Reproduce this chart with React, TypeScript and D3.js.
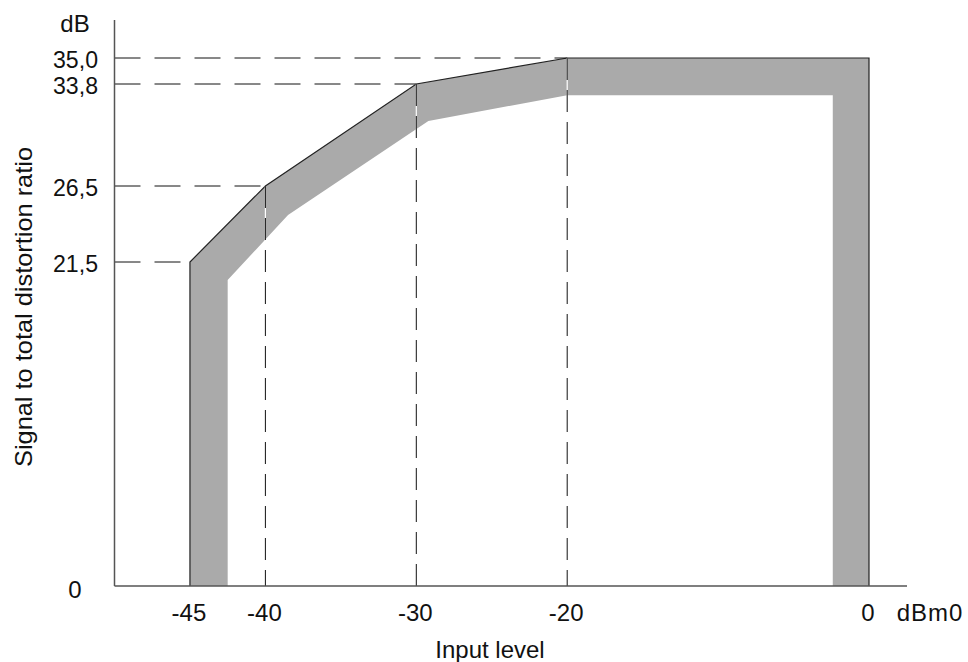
import React from "react";
import * as d3 from "d3";

// Breakpoints of the limit mask (upper edge)
const upperX = [-45, -45, -40, -30, -20, 0, 0];
const upperY = [0, 21.5, 26.5, 33.8, 35.0, 35.0, 0];
// Inner (lower) edge of the grey band
const innerX = [-42.5, -42.5, -38.5, -29.2, -20, -2.4, -2.4];
const innerY = [0, 20.3, 24.6, 31.15, 33.0, 33.0, 0];

// Annotated points (dashed reference lines)
const refX = [-45, -40, -30, -20];
const refY = [21.5, 26.5, 33.8, 35.0];
const yTickLabels = ["21,5", "26,5", "33,8", "35,0"];
const xTickValues = [-45, -40, -30, -20, 0];

const W = 968;
const H = 662;

export default function App() {
  const x = d3.scaleLinear().domain([-50, 0]).range([114.5, 869]);
  // drawing is not to scale: piecewise linear scale through the labelled values
  const y = d3.scaleLinear().domain([0, 21.5, 26.5, 33.8, 35]).range([586, 262, 186, 84, 58]);

  const outerPts: [number, number][] = upperX.map((v, i) => [x(v), y(upperY[i])]);
  const innerPts: [number, number][] = innerX.map((v, i) => [x(v), y(innerY[i])]);
  const band = [...outerPts, ...innerPts.slice().reverse()];
  const line = d3.line();
  const bandPath = line(band) + "Z";
  const outerEdge = line(outerPts) as string;

  const font = "'Liberation Sans', Arial, sans-serif";
  const fs = 24;

  return (
    <svg width={W} height={H} style={{ position: "absolute", left: 0, top: 0, background: "#fff" }}>
      <path d={bandPath} fill="#aaaaaa" stroke="none" />
      <path d={outerEdge} fill="none" stroke="#222" strokeWidth={1.2} />

      {/* horizontal dashed reference lines */}
      {refY.map((v, i) => (
        <line key={"h" + i} x1={x(-50)} x2={x(refX[i])} y1={y(v)} y2={y(v)} stroke="#111" strokeWidth={1} strokeDasharray="26,14" />
      ))}
      {/* vertical dashed reference lines (white gaps over the band) */}
      {refX.slice(1).map((v, i) => (
        <g key={"v" + i}>
          <line x1={x(v)} x2={x(v)} y1={y(refY[i + 1])} y2={y(0)} stroke="#fff" strokeWidth={1.2} />
          <line x1={x(v)} x2={x(v)} y1={y(refY[i + 1])} y2={y(0)} stroke="#111" strokeWidth={1} strokeDasharray="22,10" />
        </g>
      ))}

      {/* axes */}
      <line x1={x(-50)} x2={x(-50)} y1={20} y2={y(0)} stroke="#555" strokeWidth={1.5} />
      <line x1={x(-50)} x2={907} y1={y(0)} y2={y(0)} stroke="#555" strokeWidth={1.5} />

      <g fontFamily={font} fontSize={fs} fill="#111">
        {refY.map((v, i) => (
          <text key={"yl" + i} x={98} y={y(v) + 1} textAnchor="end" dominantBaseline="central" textLength={45} lengthAdjust="spacingAndGlyphs">
            {yTickLabels[i]}
          </text>
        ))}
        <text x={75} y={y(0) + 3} textAnchor="middle" dominantBaseline="central">0</text>
        <text x={75} y={23} textAnchor="middle" dominantBaseline="central">dB</text>

        {xTickValues.map((v) => (
          <text key={"xl" + v} x={x(v) - 1} y={612} textAnchor="middle" dominantBaseline="central">
            {String(v)}
          </text>
        ))}
        <text x={930} y={612} textAnchor="middle" dominantBaseline="central" letterSpacing={1}>dBm0</text>
        <text x={490} y={649} textAnchor="middle" dominantBaseline="central">Input level</text>
        <text
          x={0}
          y={0}
          transform={`translate(23,307) rotate(-90)`}
          textAnchor="middle"
          dominantBaseline="central"
          textLength={320}
          lengthAdjust="spacingAndGlyphs"
        >
          Signal to total distortion ratio
        </text>
      </g>
    </svg>
  );
}
